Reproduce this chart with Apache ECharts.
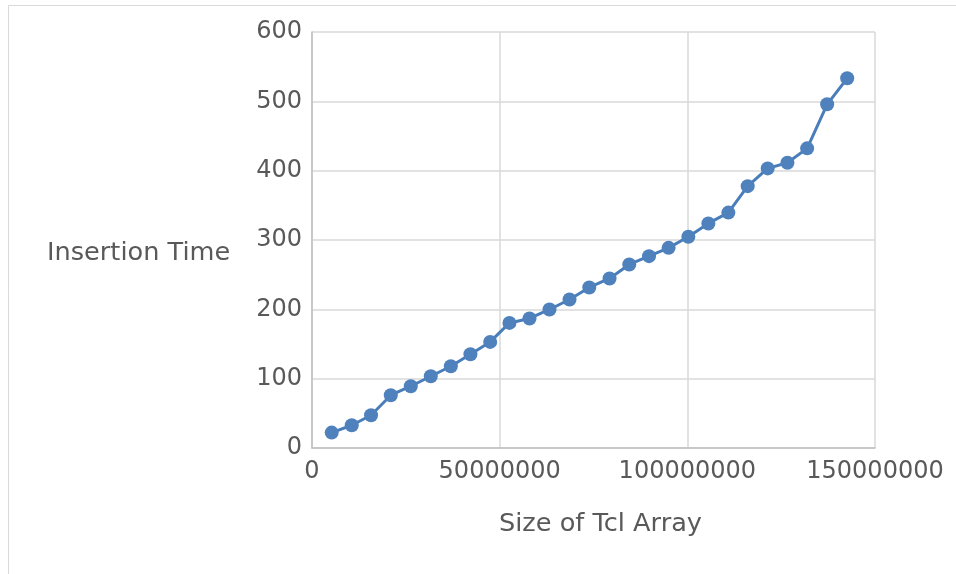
<!DOCTYPE html>
<html>
<head>
<meta charset="utf-8">
<script src="https://cdn.jsdelivr.net/npm/echarts@6/dist/echarts.min.js"></script>
<style>html,body{margin:0;padding:0;background:#fff;}#c{width:956px;height:574px;}</style>
</head>
<body>
<div id="c"></div>
<script>
const arraySizes = [5250000, 10590000, 15730000, 20990000, 26320000, 31650000, 36990000, 42210000, 47470000, 52610000, 57950000, 63280000, 68610000, 73870000, 79280000, 84530000, 89790000, 95010000, 100270000, 105600000, 110930000, 116080000, 121410000, 126670000, 131920000, 137250000, 142590000];
const insertionTimes = [22.2, 32.8, 47.2, 76.1, 89.1, 103.5, 117.9, 135.3, 153.0, 180.4, 186.8, 199.8, 214.2, 231.5, 244.5, 264.7, 276.7, 288.7, 304.6, 323.9, 339.5, 377.7, 403.3, 411.4, 432.2, 495.7, 533.2];
const xAxisTitle = 'Size of Tcl Array';
const yAxisTitle = 'Insertion Time';

const chart = echarts.init(document.getElementById('c'), null, {renderer: 'canvas'});
const font = 'DejaVu Sans';
chart.setOption({
  animation: false,
  backgroundColor: '#fff',
  graphic: [{
    type: 'rect', shape: {x: 8.5, y: 5.5, width: 1000, height: 1000},
    style: {fill: 'none', stroke: '#d9d9d9', lineWidth: 1}, silent: true, z: -1
  }, {
    type: 'text', x: 47, y: 253,
    style: {text: yAxisTitle, fill: '#595959', font: '25.6px "DejaVu Sans"', verticalAlign: 'middle', align: 'left'}
  }],
  grid: {left: 312, right: 81, top: 32, bottom: 126, containLabel: false},
  xAxis: {
    type: 'value', min: 0, max: 150000000, interval: 50000000,
    name: xAxisTitle, nameLocation: 'middle', nameGap: 63,
    nameTextStyle: {color: '#595959', fontSize: 25.6, fontFamily: font, padding: [0, 0, 0, 14]},
    axisLine: {show: true, lineStyle: {color: '#bfbfbf', width: 1.5}},
    axisTick: {show: false},
    axisLabel: {color: '#595959', fontSize: 24, fontFamily: font, margin: 12, formatter: v => String(v)},
    splitLine: {show: true, lineStyle: {color: '#d9d9d9', width: 1.5}}
  },
  yAxis: {
    type: 'value', min: 0, max: 600, interval: 100,
    axisLine: {show: true, lineStyle: {color: '#bfbfbf', width: 1.5}},
    axisTick: {show: false},
    axisLabel: {color: '#595959', fontSize: 24, fontFamily: font, margin: 10},
    splitLine: {show: true, lineStyle: {color: '#d9d9d9', width: 1.5}}
  },
  series: [{
    type: 'line',
    data: arraySizes.map((x, i) => [x, insertionTimes[i]]),
    symbol: 'circle', symbolSize: 14,
    lineStyle: {color: '#4a7ebb', width: 3},
    itemStyle: {color: '#4f81bd'}
  }]
});
</script>
</body>
</html>
